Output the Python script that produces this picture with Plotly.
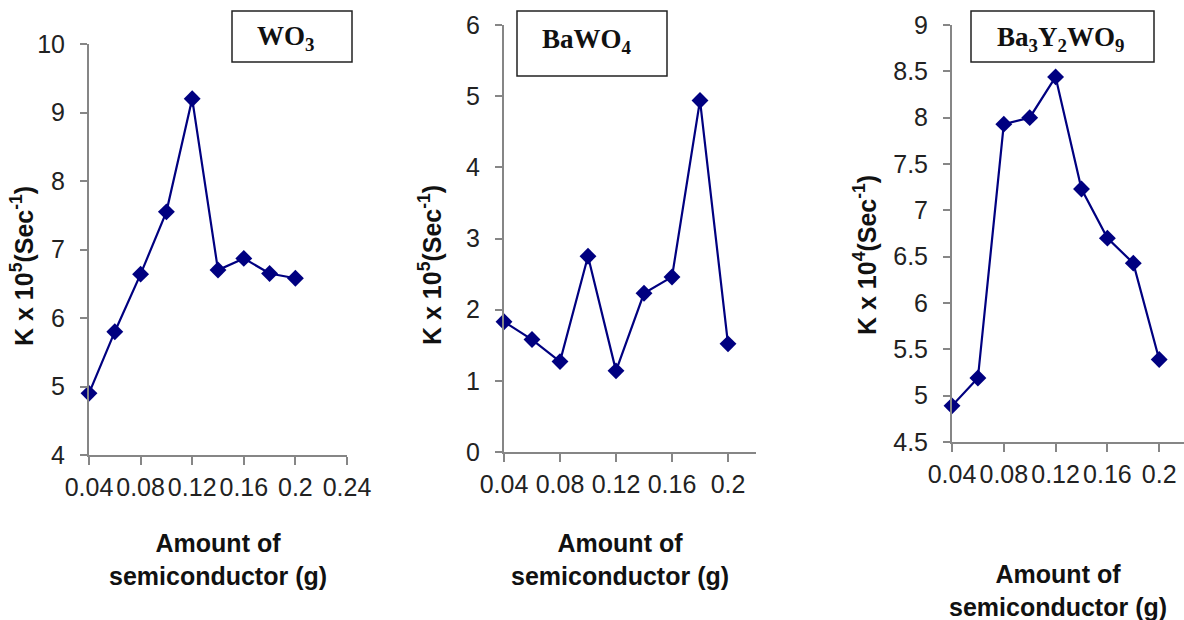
import plotly.graph_objects as go

# Photocatalytic rate constant vs. amount of semiconductor
amount = [0.04, 0.06, 0.08, 0.10, 0.12, 0.14, 0.16, 0.18, 0.20]
k_wo3 = [4.9, 5.8, 6.64, 7.55, 9.2, 6.7, 6.87, 6.65, 6.58]
k_bawo4 = [1.83, 1.58, 1.27, 2.75, 1.14, 2.23, 2.46, 4.94, 1.52]
k_ba3y2wo9 = [4.89, 5.19, 7.93, 8.0, 8.44, 7.23, 6.70, 6.43, 5.39]

x_ticks_wo3 = [0.04, 0.08, 0.12, 0.16, 0.20, 0.24]
x_ticks_wo3_text = ["0.04", "0.08", "0.12", "0.16", "0.2", "0.24"]
x_ticks = [0.04, 0.08, 0.12, 0.16, 0.20]
x_ticks_text = ["0.04", "0.08", "0.12", "0.16", "0.2"]
y_ticks_wo3 = [4, 5, 6, 7, 8, 9, 10]
y_ticks_bawo4 = [0, 1, 2, 3, 4, 5, 6]
y_ticks_ba3 = [4.5, 5, 5.5, 6, 6.5, 7, 7.5, 8, 8.5, 9]
y_ticks_ba3_text = ["4.5", "5", "5.5", "6", "6.5", "7", "7.5", "8", "8.5", "9"]

W, H = 1184, 620
NAVY = "#000080"
AXIS = "#868686"
TICKFONT = dict(family="Liberation Sans, Arial", size=25, color="#222222")


def px_x(p):
    return p / W


def px_y(p):
    return 1 - p / H


fig = go.Figure()

series = [
    (k_wo3, "x", "y"),
    (k_bawo4, "x2", "y2"),
    (k_ba3y2wo9, "x3", "y3"),
]
for vals, xa, ya in series:
    fig.add_trace(go.Scatter(
        x=amount, y=vals, xaxis=xa, yaxis=ya,
        mode="lines+markers",
        line=dict(color=NAVY, width=2.2),
        marker=dict(symbol="diamond", size=13, color=NAVY),
        cliponaxis=False, showlegend=False,
    ))


def xaxis(domain, rng, tv, tt):
    return dict(
        domain=domain, range=rng, tickvals=tv, ticktext=tt,
        showline=True, linecolor=AXIS, linewidth=2, showgrid=False,
        zeroline=False, ticks="outside", ticklen=8, tickwidth=2,
        tickcolor=AXIS, tickfont=TICKFONT, ticklabelstandoff=1,
        tickangle=0, automargin=False,
    )


def yaxis(domain, rng, tv, tt, anchor):
    return dict(
        domain=domain, range=rng, tickvals=tv, ticktext=tt, anchor=anchor,
        showline=True, linecolor=AXIS, linewidth=2, showgrid=False,
        zeroline=False, ticks="outside", ticklen=7, tickwidth=2,
        tickcolor=AXIS, tickfont=TICKFONT, ticklabelstandoff=10,
        automargin=False,
    )


# Panel geometry (pixels)
p1_x = [89, 347]
p1_y = [44, 455]
p2_x = [504, 756]
p2_y = [25, 452]
p3_x = [952, 1184]
p3_y = [25, 442]
p3_xmax = 0.04 + (p3_x[1] - p3_x[0]) / 51.8 * 0.04

fig.update_layout(
    width=W, height=H,
    margin=dict(l=0, r=0, t=0, b=0, autoexpand=False),
    paper_bgcolor="white", plot_bgcolor="white",
    xaxis=xaxis([px_x(p1_x[0]), px_x(p1_x[1])], [0.04, 0.24],
                x_ticks_wo3, x_ticks_wo3_text) | dict(anchor="y"),
    yaxis=yaxis([px_y(p1_y[1]), px_y(p1_y[0])], [4, 10],
                y_ticks_wo3, [str(v) for v in y_ticks_wo3], "x"),
    xaxis2=xaxis([px_x(p2_x[0]), px_x(p2_x[1])], [0.04, 0.22],
                 x_ticks, x_ticks_text) | dict(anchor="y2"),
    yaxis2=yaxis([px_y(p2_y[1]), px_y(p2_y[0])], [0, 6],
                 y_ticks_bawo4, [str(v) for v in y_ticks_bawo4], "x2"),
    xaxis3=xaxis([px_x(p3_x[0]), 1.0], [0.04, p3_xmax],
                 x_ticks, x_ticks_text) | dict(anchor="y3"),
    yaxis3=yaxis([px_y(p3_y[1]), px_y(p3_y[0])], [4.5, 9],
                 y_ticks_ba3, y_ticks_ba3_text, "x3"),
)

TITLE_FONT = dict(family="Liberation Sans, Arial", size=25, color="#111111")
BOX_FONT = dict(family="Liberation Serif, Times New Roman", size=27, color="#111111")

annotations = []
# Y-axis titles
for label, cx, cy in [
    ("<b>K x 10<sup>5</sup>(Sec<sup>-1</sup>)</b>", 22, 266),
    ("<b>K x 10<sup>5</sup>(Sec<sup>-1</sup>)</b>", 430, 265),
    ("<b>K x 10<sup>4</sup>(Sec<sup>-1</sup>)</b>", 865, 255),
]:
    annotations.append(dict(
        text=label, textangle=-90, x=px_x(cx), y=px_y(cy),
        xref="paper", yref="paper", xanchor="center", yanchor="middle",
        showarrow=False, font=TITLE_FONT,
    ))

# X-axis titles
for cx, cy in [(218, 559), (620, 559), (1058, 590)]:
    annotations.append(dict(
        text="<b>Amount of<br>semiconductor (g)</b>", x=px_x(cx), y=px_y(cy),
        xref="paper", yref="paper", xanchor="center", yanchor="middle",
        showarrow=False, font=TITLE_FONT,
    ))

# Compound labels in boxes
boxes = [
    ("<b>WO<sub>3</sub></b>", (232, 11, 352, 62), (285, 38)),
    ("<b>BaWO<sub>4</sub></b>", (517, 11, 667, 76), (587, 41)),
    ("<b>Ba<sub>3</sub>Y<sub>2</sub>WO<sub>9</sub></b>", (971, 11, 1154, 62), (1060, 39)),
]
shapes = []
for label, (x0, y0, x1, y1), (cx, cy) in boxes:
    shapes.append(dict(
        type="rect", xref="paper", yref="paper",
        x0=px_x(x0), x1=px_x(x1), y0=px_y(y1), y1=px_y(y0),
        line=dict(color="#222222", width=1.5), fillcolor="white", layer="below",
    ))
    annotations.append(dict(
        text=label, x=px_x(cx), y=px_y(cy), xref="paper", yref="paper",
        xanchor="center", yanchor="middle", showarrow=False, font=BOX_FONT,
    ))

fig.update_layout(annotations=annotations, shapes=shapes)

fig.write_html("out.html")
